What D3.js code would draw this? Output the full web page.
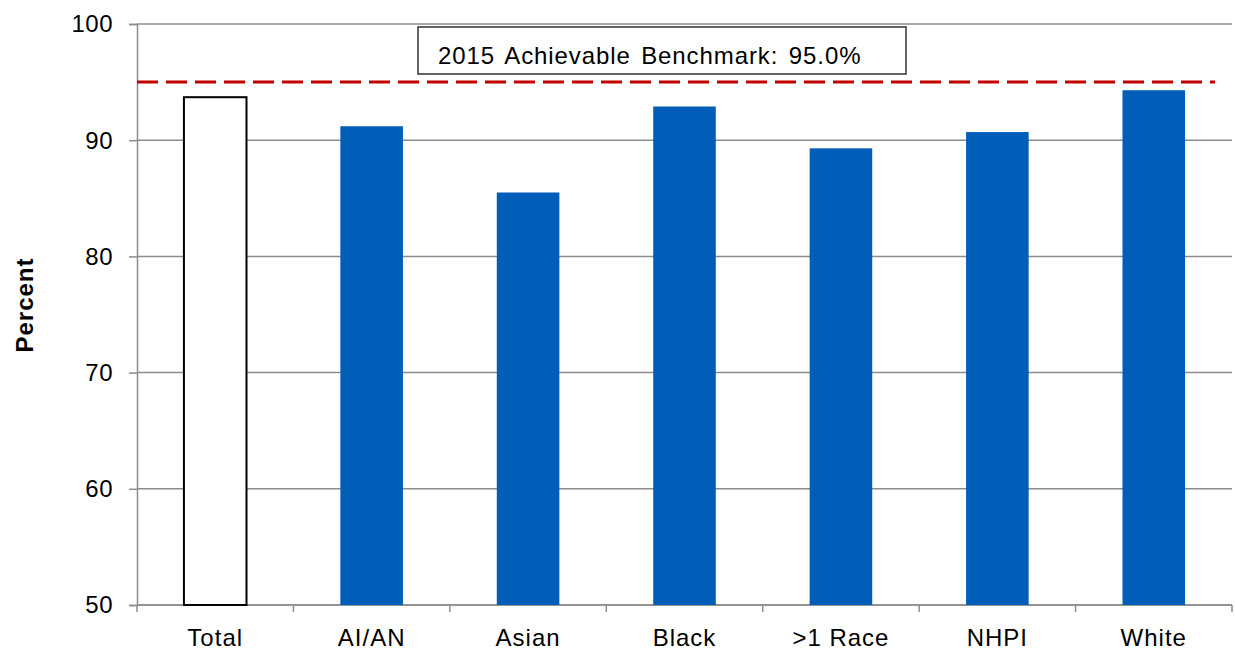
<!DOCTYPE html>
<html><head><meta charset="utf-8">
<script src="https://cdn.jsdelivr.net/npm/d3@7"></script>
<style>body{margin:0;background:#fff}svg{display:block;font-family:"Liberation Sans",Arial,sans-serif}</style>
</head><body>
<svg id="c" width="1235" height="650"></svg>
<script>
const categories = ["Total","AI/AN","Asian","Black",">1 Race","NHPI","White"];
const values = [93.7,91.2,85.5,92.9,89.3,90.7,94.3];
const yTicks = [50,60,70,80,90,100];
const benchmark = 95.0;
const benchmarkLabel = "2015 Achievable Benchmark: 95.0%";
const yTitle = "Percent";

const svg = d3.select("#c");
const L=137,R=1232,T=24,B=605;
const FONT = "Liberation Sans, Arial, sans-serif";
const x = d3.scaleBand().domain(categories).range([L,R]).paddingInner(0.6).paddingOuter(0.3);
const xb = d3.scaleBand().domain(categories).range([L,R]);
const y = d3.scaleLinear().domain([50,100]).range([B,T]);

// gridlines
svg.append("g").selectAll("line").data(yTicks).join("line")
  .attr("x1",L).attr("x2",R).attr("y1",d=>y(d)).attr("y2",d=>y(d))
  .attr("stroke","#8c8c8c").attr("stroke-width",1.5);

// y axis
const ya = svg.append("g").attr("transform",`translate(${L},0)`)
  .call(d3.axisLeft(y).tickValues(yTicks).tickSize(8).tickPadding(16));
ya.select(".domain").attr("stroke","#8c8c8c").attr("stroke-width",1.5);
ya.selectAll(".tick line").attr("stroke","#8c8c8c").attr("stroke-width",1.5);
ya.selectAll("text").attr("font-size",24).attr("fill","#000").attr("font-family",FONT)
  .attr("letter-spacing","0.5px").attr("dy","0.33em");

// x axis
const xa = svg.append("g").attr("transform",`translate(0,${B})`)
  .call(d3.axisBottom(x).tickSize(0).tickPadding(24));
xa.select(".domain").remove();
xa.selectAll("text").attr("font-size",24).attr("fill","#000").attr("font-family",FONT)
  .attr("letter-spacing","1px");
const bounds = categories.map(c=>xb(c)).concat([R]);
svg.append("g").selectAll("line").data(bounds).join("line")
  .attr("x1",d=>d).attr("x2",d=>d).attr("y1",B).attr("y2",B+7)
  .attr("stroke","#8c8c8c").attr("stroke-width",1.5);
svg.append("line").attr("x1",L).attr("x2",R).attr("y1",B).attr("y2",B).attr("stroke","#8c8c8c").attr("stroke-width",1.5);

// bars
svg.append("g").selectAll("rect").data(categories).join("rect")
  .attr("x",d=>x(d)).attr("width",x.bandwidth())
  .attr("y",(d,i)=>y(values[i])).attr("height",(d,i)=>B-y(values[i]))
  .attr("fill",(d,i)=>i===0?"#fff":"#005EB8")
  .attr("stroke",(d,i)=>i===0?"#000":"none").attr("stroke-width",2);

// benchmark line
svg.append("line").attr("x1",L).attr("x2",1215).attr("y1",y(benchmark)).attr("y2",y(benchmark))
  .attr("stroke","#C00000").attr("stroke-width",3).attr("stroke-dasharray","21,8");

// label box
svg.append("rect").attr("x",418).attr("y",27).attr("width",488).attr("height",47)
  .attr("fill","#fff").attr("stroke","#333").attr("stroke-width",1.5);
svg.append("text").attr("x",438).attr("y",64).attr("font-size",24).attr("fill","#000")
  .attr("letter-spacing","0.9px").attr("word-spacing","3px").text(benchmarkLabel);

// y title
svg.append("text").attr("transform",`translate(33,305) rotate(-90)`)
  .attr("text-anchor","middle").attr("font-size",24).attr("font-weight","bold")
  .attr("letter-spacing","1px").text(yTitle);
</script>
</body></html>
